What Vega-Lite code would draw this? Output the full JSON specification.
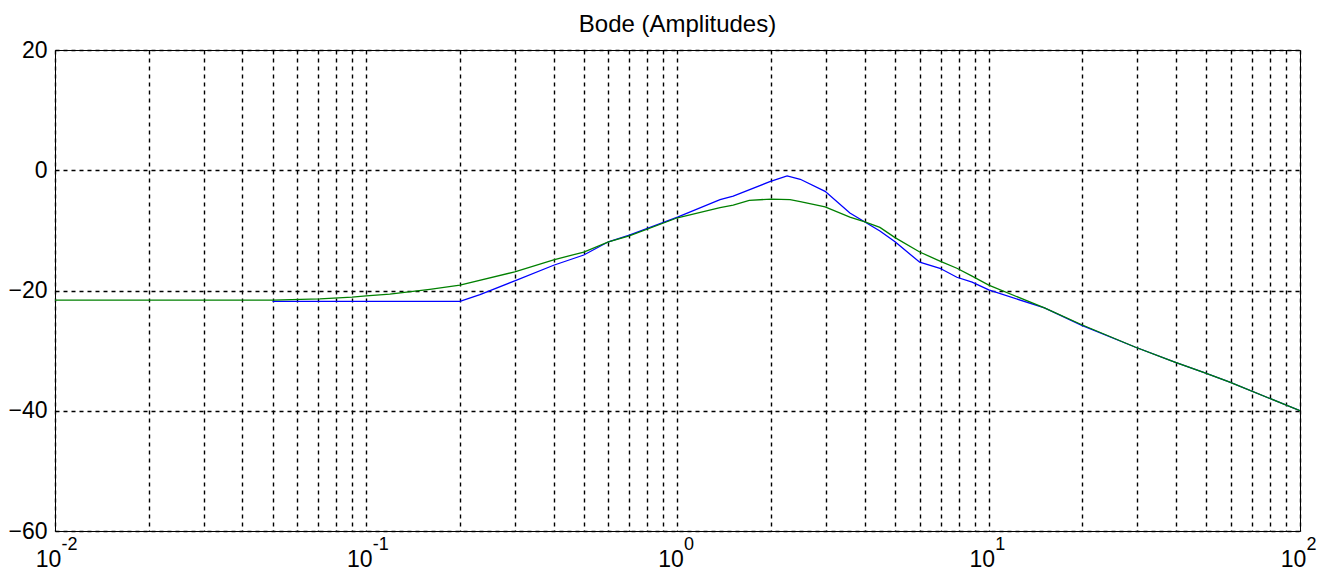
{
  "$schema": "https://vega.github.io/schema/vega-lite/v6.json",
  "autosize": "none",
  "width": 1245,
  "height": 481,
  "padding": {"left": 55, "top": 50, "right": 24, "bottom": 50},
  "background": "white",
  "title": {"text": "Bode (Amplitudes)", "font": "Liberation Sans", "fontSize": 24, "fontWeight": "normal", "color": "black", "anchor": "middle", "frame": "group", "baseline": "alphabetic", "offset": 0, "dy": 17},
  "config": {
    "view": {"stroke": "black", "strokeWidth": 1},
    "axis": {"labelFont": "Liberation Sans", "labelColor": "black", "domain": false, "ticks": false, "gridColor": "black", "gridOpacity": 1, "gridWidth": 1.4, "gridDash": [4, 4], "title": null}
  },
  "datasets": {
    "curves": [
      {"f": 0.05, "db": -21.8, "s": "blue"},
      {"f": 0.1, "db": -21.8, "s": "blue"},
      {"f": 0.2, "db": -21.8, "s": "blue"},
      {"f": 0.232, "db": -20.7, "s": "blue"},
      {"f": 0.3, "db": -18.4, "s": "blue"},
      {"f": 0.4, "db": -15.8, "s": "blue"},
      {"f": 0.5, "db": -14.1, "s": "blue"},
      {"f": 0.6, "db": -11.9, "s": "blue"},
      {"f": 0.7, "db": -10.8, "s": "blue"},
      {"f": 1.0, "db": -7.8, "s": "blue"},
      {"f": 1.37, "db": -4.9, "s": "blue"},
      {"f": 1.51, "db": -4.3, "s": "blue"},
      {"f": 1.98, "db": -1.9, "s": "blue"},
      {"f": 2.25, "db": -0.95, "s": "blue"},
      {"f": 2.48, "db": -1.5, "s": "blue"},
      {"f": 2.98, "db": -3.5, "s": "blue"},
      {"f": 3.58, "db": -7.1, "s": "blue"},
      {"f": 4.0, "db": -8.6, "s": "blue"},
      {"f": 4.47, "db": -10.1, "s": "blue"},
      {"f": 5.0, "db": -11.9, "s": "blue"},
      {"f": 6.0, "db": -15.3, "s": "blue"},
      {"f": 6.97, "db": -16.3, "s": "blue"},
      {"f": 7.9, "db": -17.8, "s": "blue"},
      {"f": 8.84, "db": -18.6, "s": "blue"},
      {"f": 10, "db": -19.9, "s": "blue"},
      {"f": 15.1, "db": -22.9, "s": "blue"},
      {"f": 19.9, "db": -25.8, "s": "blue"},
      {"f": 29.5, "db": -29.4, "s": "blue"},
      {"f": 39.6, "db": -31.9, "s": "blue"},
      {"f": 49.5, "db": -33.7, "s": "blue"},
      {"f": 59.2, "db": -35.2, "s": "blue"},
      {"f": 100, "db": -40.0, "s": "blue"},
      {"f": 0.01, "db": -21.6, "s": "green"},
      {"f": 0.05, "db": -21.6, "s": "green"},
      {"f": 0.071, "db": -21.4, "s": "green"},
      {"f": 0.09, "db": -21.1, "s": "green"},
      {"f": 0.1, "db": -20.9, "s": "green"},
      {"f": 0.119, "db": -20.6, "s": "green"},
      {"f": 0.16, "db": -19.8, "s": "green"},
      {"f": 0.2, "db": -19.1, "s": "green"},
      {"f": 0.3, "db": -16.9, "s": "green"},
      {"f": 0.4, "db": -14.9, "s": "green"},
      {"f": 0.5, "db": -13.6, "s": "green"},
      {"f": 0.6, "db": -11.9, "s": "green"},
      {"f": 0.7, "db": -10.9, "s": "green"},
      {"f": 1.0, "db": -7.9, "s": "green"},
      {"f": 1.37, "db": -6.2, "s": "green"},
      {"f": 1.51, "db": -5.8, "s": "green"},
      {"f": 1.7, "db": -5.0, "s": "green"},
      {"f": 2.0, "db": -4.8, "s": "green"},
      {"f": 2.3, "db": -4.9, "s": "green"},
      {"f": 2.48, "db": -5.2, "s": "green"},
      {"f": 2.98, "db": -6.1, "s": "green"},
      {"f": 3.58, "db": -7.8, "s": "green"},
      {"f": 4.0, "db": -8.6, "s": "green"},
      {"f": 4.47, "db": -9.5, "s": "green"},
      {"f": 5.0, "db": -11.2, "s": "green"},
      {"f": 6.0, "db": -13.6, "s": "green"},
      {"f": 6.97, "db": -15.1, "s": "green"},
      {"f": 7.9, "db": -16.3, "s": "green"},
      {"f": 8.84, "db": -17.6, "s": "green"},
      {"f": 10, "db": -19.1, "s": "green"},
      {"f": 15.1, "db": -22.9, "s": "green"},
      {"f": 19.9, "db": -25.7, "s": "green"},
      {"f": 29.5, "db": -29.4, "s": "green"},
      {"f": 39.6, "db": -31.9, "s": "green"},
      {"f": 49.5, "db": -33.7, "s": "green"},
      {"f": 59.2, "db": -35.2, "s": "green"},
      {"f": 100, "db": -40.0, "s": "green"}
    ]
  },
  "data": {"name": "curves"},
  "layer": [
    {
      "mark": {"type": "line", "strokeWidth": 1.3, "clip": true},
      "transform": [{"filter": "datum.s === 'blue'"}],
      "encoding": {
        "x": {"field": "f", "type": "quantitative",
          "scale": {"type": "log", "domain": [0.01, 100], "nice": false},
          "axis": {"orient": "bottom", "grid": true, "values": [0.01,0.02,0.03,0.04,0.05,0.06,0.07,0.08,0.09,0.1,0.2,0.3,0.4,0.5,0.6,0.7,0.8,0.9,1,2,3,4,5,6,7,8,9,10,20,30,40,50,60,70,80,90,100],
            "labelExpr": "abs(log(datum.value)/LN10 - round(log(datum.value)/LN10)) < 0.001 ? '10' : ''",
            "labelFontSize": 23, "labelPadding": 17, "labelOffset": -7, "labelFlush": false, "labelOverlap": false}},
        "y": {"field": "db", "type": "quantitative",
          "scale": {"domain": [-60, 20], "nice": false, "zero": false},
          "axis": {"grid": true, "values": [-60, -40, -20, 0, 20], "labelFontSize": 23, "labelPadding": 8}},
        "color": {"field": "s", "type": "nominal", "scale": {"domain": ["blue", "green"], "range": ["#0000ff", "#008000"]}, "legend": null}
      }
    },
    {
      "mark": {"type": "line", "strokeWidth": 1.3, "clip": true},
      "transform": [{"filter": "datum.s === 'green'"}],
      "encoding": {
        "x": {"field": "f", "type": "quantitative",
          "scale": {"type": "log", "domain": [0.01, 100], "nice": false},
          "axis": {"orient": "bottom", "grid": false, "values": [0.01, 0.1, 1, 10, 100],
            "labelExpr": "'' + round(log(datum.value)/LN10)",
            "labelFontSize": 18, "labelPadding": 4, "labelOffset": 6, "labelAlign": "left", "labelFlush": false, "labelOverlap": false}},
        "y": {"field": "db", "type": "quantitative"},
        "color": {"field": "s", "type": "nominal", "legend": null}
      }
    }
  ],
  "resolve": {"axis": {"x": "independent"}}
}
